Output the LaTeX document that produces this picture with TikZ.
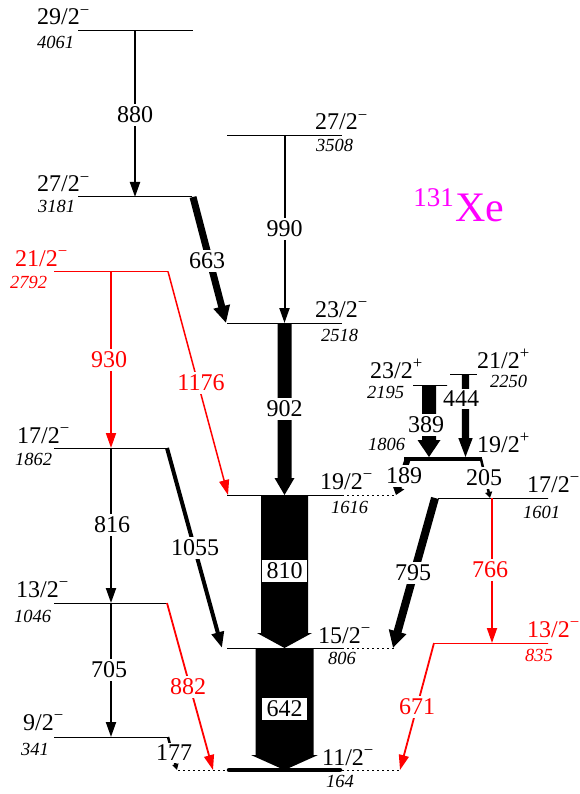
\documentclass[tikz,border=0pt]{standalone}
\usepackage{fontspec}
\setmainfont{Liberation Serif}
\usetikzlibrary{arrows.meta}
\definecolor{xred}{RGB}{255,0,0}
\definecolor{xmag}{RGB}{255,0,255}
\newcommand\spinm[1]{#1\textsuperscript{−}}
\newcommand\spinp[1]{#1\textsuperscript{+}}
\begin{document}
\begin{tikzpicture}[x=1pt,y=-1pt,
  lvl/.style={line width=1pt, dash pattern=on 1.6pt off 0.4pt},
  lvlext/.style={line width=1pt, dash pattern=on 1.5pt off 3.5pt},
  gam/.style={line width=2pt, -{Triangle[length=15pt,width=10pt]}},
  lab/.style={fill=white, inner xsep=1.5pt, inner ysep=2.5pt, font=\fontsize{24}{24}\selectfont},
  boxlab/.style={fill=white, inner sep=0pt, minimum width=45pt, minimum height=22pt, font=\fontsize{24}{24}\selectfont},
  spin/.style={anchor=base west, inner sep=0pt, font=\fontsize{24}{24}\selectfont},
  en/.style={anchor=base west, inner sep=0pt, font=\fontsize{18.5}{18.5}\selectfont\itshape}]
\useasboundingbox (0,0) rectangle (579,794);

% ---------- levels ----------
\draw[lvl] (78,31) -- (193,31);
\draw[lvl] (78,197) -- (192,197);
\draw[lvl] (227,135.5) -- (342,135.5);
\draw[lvl] (227,323) -- (342,323);
\draw[lvl,xred] (54,271.5) -- (168,271.5);
\draw[lvl] (54,448) -- (167,448);
\draw[lvl] (54,603) -- (167,603);
\draw[lvl] (54,737) -- (168,737);
\draw[lvl] (227,495) -- (342,495);
\draw[lvlext] (342,495) -- (395,495);
\draw[lvl] (227,648) -- (342,648);
\draw[lvlext] (342,648) -- (395,648);
\draw[lvlext] (178,770) -- (227,770);
\draw[lvlext] (342,770) -- (400,770);
\draw[line width=4.5pt, line cap=round] (229,770) -- (340,770);
\draw[lvl] (438,498) -- (548,498);
\draw[lvl,xred] (434,643) -- (548,643);
\draw[lvl] (413,385) -- (447,385);
\draw[lvl] (450,374) -- (477,374);
\draw[line width=4.5pt] (404,459) -- (482,459);

% ---------- coordinates of transitions ----------
\coordinate (a880) at (135,31);   \coordinate (b880) at (135,197);
\coordinate (a990) at (284.5,135.5); \coordinate (b990) at (284.5,323);
\coordinate (a663) at (193,197);  \coordinate (b663) at (226,323);
\coordinate (a930) at (111,271.5); \coordinate (b930) at (111,448);
\coordinate (a1176) at (168,271.5); \coordinate (b1176) at (228,495);
\coordinate (a816) at (111,448);  \coordinate (b816) at (111,603);
\coordinate (a1055) at (167,448); \coordinate (b1055) at (222,648);
\coordinate (a705) at (111,603);  \coordinate (b705) at (111,737);
\coordinate (a882) at (167,603);  \coordinate (b882) at (213,770);
\coordinate (a177) at (168,737);  \coordinate (b177) at (177,770);
\coordinate (a189) at (408,458);  \coordinate (b189) at (396,495);
\coordinate (a205) at (481,459);  \coordinate (b205) at (490,498);
\coordinate (a795) at (435,498);  \coordinate (b795) at (393,648);
\coordinate (a766) at (492,498);  \coordinate (b766) at (492,643);
\coordinate (a671) at (434,643);  \coordinate (b671) at (400,770);

% ---------- transitions ----------
\draw[gam] (a880) -- (b880);
\draw[gam] (a990) -- (b990);
\draw[line width=7pt, -{Triangle[length=17pt,width=16pt]}] (a663) -- (b663);
\draw[gam,xred,line width=1.8pt] (a930) -- (b930);
\draw[gam,xred,line width=1.5pt] (a1176) -- (b1176);
\draw[gam] (a816) -- (b816);
\draw[line width=4pt, -{Triangle[length=16pt,width=12pt]}] (a1055) -- (b1055);
\draw[gam] (a705) -- (b705);
\draw[gam,xred,line width=1.8pt] (a882) -- (b882);
\draw[line width=2.5pt, -{Triangle[length=6pt,width=6pt]}] (a177) -- (b177);
\draw[line width=6pt, -{Triangle[length=8pt,width=12pt]}] (a189) -- (b189);
\draw[line width=2.5pt, -{Triangle[length=6pt,width=7pt]}] (a205) -- (b205);
\draw[line width=8pt, -{Triangle[length=17pt,width=17pt]}] (a795) -- (b795);
\draw[gam,xred,line width=1.8pt] (a766) -- (b766);
\draw[gam,xred,line width=1.8pt] (a671) -- (b671);

% block arrows
\fill (277.5,323) -- (291.5,323) -- (291.5,478) -- (294.5,478) -- (284.5,495)
      -- (274.5,478) -- (277.5,478) -- cycle;
\fill (261,495) -- (308,495) -- (308,633) -- (312,633) -- (284.5,648)
      -- (257,633) -- (261,633) -- cycle;
\fill (255.5,648) -- (313.5,648) -- (313.5,755) -- (318,755) -- (284.5,770)
      -- (251,755) -- (255.5,755) -- cycle;
\fill (422,385) -- (436,385) -- (436,440) -- (440.5,440) -- (429,457)
      -- (417.5,440) -- (422,440) -- cycle;
\fill (461.8,374) -- (469.2,374) -- (469.2,438) -- (472.7,438) -- (465.5,457)
      -- (458.3,438) -- (461.8,438) -- cycle;

% ---------- transition labels ----------
\node[lab] (l880) at (135,115) {880};
\node[lab] (l990) at (284.5,229) {990};
\node[lab] (l663) at (207,261) {663};
\node[lab,text=xred] (l930) at (109,360) {930};
\node[lab,text=xred] (l1176) at (201,383) {1176};
\node[lab] (l902) at (284.5,409) {902};
\node[lab] (l816) at (112,525) {816};
\node[lab] (l1055) at (195,548) {1055};
\node[lab] (l705) at (109,670) {705};
\node[lab,text=xred] (l882) at (188,687) {882};
\node[lab] (l177) at (174,753) {177};
\node[boxlab] (l810) at (284.5,571) {810};
\node[boxlab] (l642) at (284.5,709) {642};
\node[lab] (l795) at (413,573) {795};
\node[lab,text=xred] (l766) at (490,570) {766};
\node[lab,text=xred] (l671) at (417,707) {671};
\node[lab] (l189) at (404,476) {189};
\node[lab] (l205) at (484,478) {205};
\node[lab] (l389) at (426,425) {389};
\node[lab] (l444) at (461,399) {444};

% ---------- level labels ----------
\node[spin] (s4061) at (37,25) {\spinm{29/2}};
\node[en] (e4061) at (37,49) {4061};
\node[spin] (s3181) at (37,192) {\spinm{27/2}};
\node[en] (e3181) at (38,213) {3181};
\node[spin] (s3508) at (315,130) {\spinm{27/2}};
\node[en] (e3508) at (316,152) {3508};
\node[spin] (s2518) at (315,317) {\spinm{23/2}};
\node[en] (e2518) at (321,341) {2518};
\node[spin,text=xred] (s2792) at (15,266) {\spinm{21/2}};
\node[en,text=xred] (e2792) at (10,288) {2792};
\node[spin] (s1862) at (17,443) {\spinm{17/2}};
\node[en] (e1862) at (15,465) {1862};
\node[spin] (s1046) at (16,597) {\spinm{13/2}};
\node[en] (e1046) at (14,622) {1046};
\node[spin] (s341) at (23,730) {\spinm{9/2}};
\node[en] (e341) at (21,755) {341};
\node[spin] (s1616) at (320,489) {\spinm{19/2}};
\node[en] (e1616) at (331,513) {1616};
\node[spin] (s806) at (318,643) {\spinm{15/2}};
\node[en] (e806) at (328,664) {806};
\node[spin] (s164) at (322,765) {\spinm{11/2}};
\node[en] (e164) at (326,787) {164};
\node[spin] (s1601) at (527,492) {\spinm{17/2}};
\node[en] (e1601) at (523,518) {1601};
\node[spin,text=xred] (s835) at (527,637) {\spinm{13/2}};
\node[en,text=xred] (e835) at (525,661) {835};
\node[spin] (s2195) at (370,378) {\spinp{23/2}};
\node[en] (e2195) at (367,398) {2195};
\node[spin] (s2250) at (477,368) {\spinp{21/2}};
\node[en] (e2250) at (490,387) {2250};
\node[spin] (s1806) at (477,452) {\spinp{19/2}};
\node[en] (e1806) at (368,450) {1806};

% nucleus
\node[anchor=base east, inner sep=0pt, text=xmag, font=\fontsize{27}{27}\selectfont] (mass) at (454,207) {131};
\node[anchor=base west, inner sep=0pt, text=xmag, font=\fontsize{42}{42}\selectfont] (xe) at (455,222) {Xe};
\end{tikzpicture}
\end{document}
